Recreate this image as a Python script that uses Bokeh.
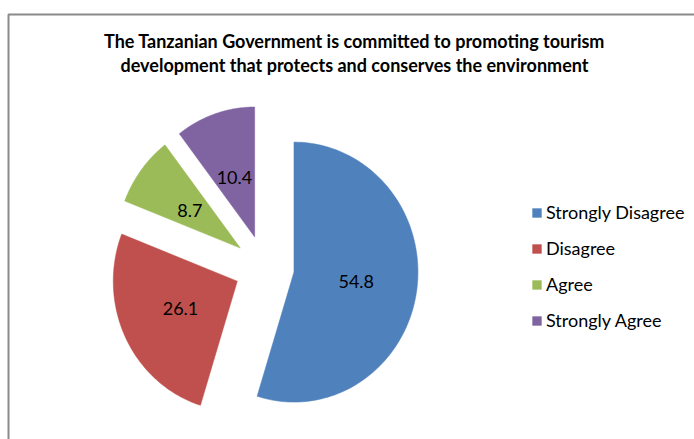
import numpy as np
from bokeh.plotting import figure
from bokeh.models import ColumnDataSource, Range1d, Legend, LegendItem
from bokeh.core.properties import value
from bokeh.embed import file_html
from bokeh.resources import INLINE

# ---- data ----
categories = ["Strongly Disagree", "Disagree", "Agree", "Strongly Agree"]
values = [54.8, 26.1, 8.7, 10.4]
colors = ["#4F81BD", "#C0504D", "#9BBB59", "#8064A2"]
title_lines = ["The Tanzanian Government is committed to promoting tourism",
               "development that protects and conserves the environment"]

FONT = "Lato"
W, H = 694, 439

p = figure(width=W, height=H, output_backend="svg", toolbar_location=None,
           x_range=Range1d(0, W), y_range=Range1d(0, H),
           x_axis_location=None, y_axis_location=None, min_border=0)
p.grid.visible = False
p.outline_line_color = None
p.background_fill_color = "white"

# chart-area border (top + left, rest is cropped in the reference)
p.line(x=[8, 8, W], y=[0, 425, 425], line_color="#8a8a8a", line_width=2)

# ---- pie geometry (exploded) ----
cx, cy = 263.8, 172.2
rx, ry = 124.0, 130.0
ex, ey = 30.0, 32.0
lab_r = 63.0

vals = np.array(values, dtype=float)
frac = vals / vals.sum()
ends = np.cumsum(frac) * 2 * np.pi
starts = ends - frac * 2 * np.pi

xs, ys, lx, ly = [], [], [], []
for a0, a1 in zip(starts, ends):
    mid = 0.5 * (a0 + a1)
    ox = cx + ex * np.sin(mid)
    oy = cy + ey * np.cos(mid)
    t = np.linspace(a0, a1, 120)
    xs.append([ox] + list(ox + rx * np.sin(t)))
    ys.append([oy] + list(oy + ry * np.cos(t)))
    lx.append(ox + lab_r * np.sin(mid))
    ly.append(oy + lab_r * np.cos(mid))

src = ColumnDataSource(dict(xs=xs, ys=ys, color=colors, label=categories))
r = p.patches("xs", "ys", source=src, fill_color="color", line_color="color",
              line_width=0.5)

lab_src = ColumnDataSource(dict(x=lx, y=ly, text=[f"{v:.1f}" for v in values]))
p.text("x", "y", text="text", source=lab_src, text_font=value(FONT),
       text_font_size="18px", text_align="center", text_baseline="middle",
       text_color="#000000")

# ---- title ----
tsrc = ColumnDataSource(dict(x=[354, 354], y=[398.5, 374.5], text=title_lines))
p.text("x", "y", text="text", source=tsrc, text_font=value(FONT),
       text_font_size="18px", text_font_style="bold", text_align="center",
       text_baseline="middle", text_color="#000000")

# ---- legend ----
items = [LegendItem(label=c, renderers=[r], index=i) for i, c in enumerate(categories)]
legend = Legend(items=items, location=(531, 108), orientation="vertical",
                glyph_width=11, glyph_height=11, label_height=20,
                spacing=14, padding=0, margin=0, label_standoff=4,
                label_text_font=FONT, label_text_font_size="18px",
                label_text_color="#000000", border_line_color=None,
                background_fill_alpha=0)
p.add_layout(legend, "center")

open("out.html", "w").write(file_html(p, INLINE))
